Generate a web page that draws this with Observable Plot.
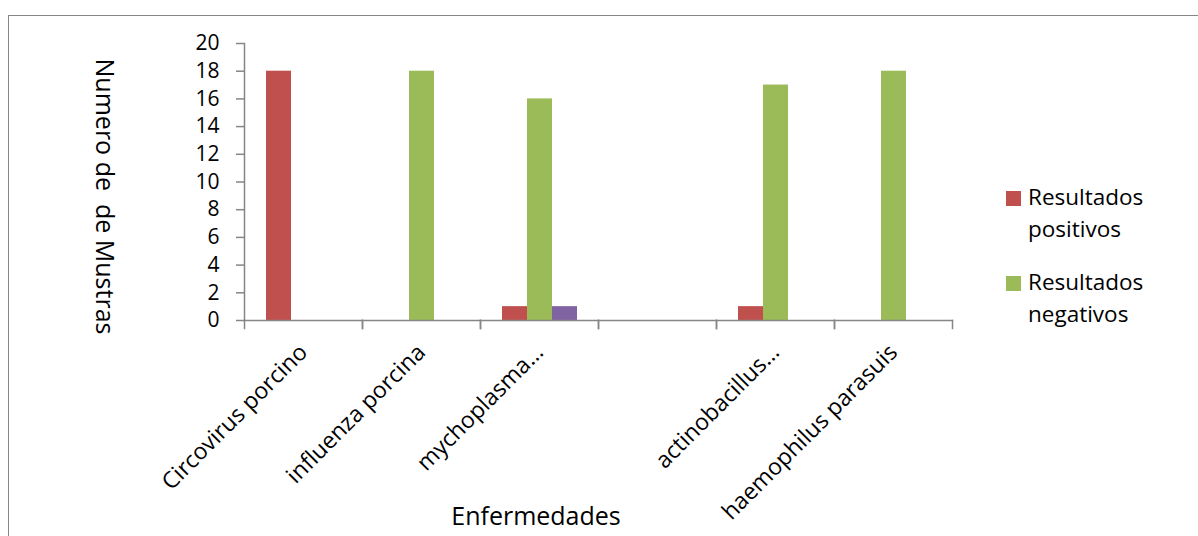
<!DOCTYPE html>
<html>
<head>
<meta charset="utf-8">
<script src="https://cdn.jsdelivr.net/npm/d3@7"></script>
<script src="https://cdn.jsdelivr.net/npm/@observablehq/plot@0.6"></script>
<style>
  body { margin: 0; background: #fff; font-family: "Open Sans", sans-serif; }
  #chart { position: relative; width: 1198px; height: 536px; overflow: hidden; background: #fff; }
  #chart svg { position: absolute; left: 0; top: 0; }
  #chart svg text { white-space: pre; }
  .borde { position: absolute; left: 8px; top: 15px; width: 1400px; height: 800px;
           border-left: 1.5px solid #868686; border-top: 1.5px solid #868686; pointer-events: none; }
  .leyenda { position: absolute; left: 1006px; top: 181px; font-size: 22.5px; line-height: 32px; color: #000; }
  .item { display: flex; align-items: flex-start; margin-bottom: 21px; }
  .muestra { width: 15px; height: 15px; margin-top: 10px; margin-right: 7px; flex: none; }
  .etiqueta { width: 140px; }
</style>
</head>
<body>
<div id="chart"></div>
<script>
// Enfermedades analizadas (la cuarta columna queda vacía)
const categorias = ["Circovirus porcino", "influenza porcina", "mychoplasma…", "", "actinobacillus…", "haemophilus parasuis"];
const nombresSeries = ["Resultados positivos", "Resultados negativos", "Serie 3"];
const positivos = [18, 0, 1, null, 1, 0];
const negativos = [0, 18, 16, null, 17, 18];
const serie3 = [0, 0, 1, null, 0, 0];
const colores = ["#C0504D", "#9BBB59", "#8064A2"];
const marcasY = [0, 2, 4, 6, 8, 10, 12, 14, 16, 18, 20];
const enLeyenda = ["Resultados positivos", "Resultados negativos"];
const tituloY = "Numero de  de Mustras";
const tituloX = "Enfermedades";

// Tabla larga: una fila por enfermedad y serie (los vacíos se conservan
// para que la columna sin datos siga ocupando su lugar)
const valores = [positivos, negativos, serie3];
const filas = categorias.flatMap((cat, i) =>
  nombresSeries.map((serie, s) => ({cat, serie, valor: valores[s][i]}))
);

const W = 1198, H = 536, mT = 43, mB = 216, mL = 244, mR = 246;
const altoInterior = H - mT - mB;
const gris = "#868686";

const grafico = Plot.plot({
  width: W,
  height: H,
  marginTop: mT,
  marginBottom: mB,
  marginLeft: mL,
  marginRight: mR,
  style: {fontFamily: '"Open Sans", sans-serif', color: "#000", background: "transparent"},
  fx: {domain: categorias, padding: 0, label: null},
  x: {domain: nombresSeries, paddingInner: 0, paddingOuter: 0.77, axis: null},
  y: {domain: [0, 20], label: null},
  color: {domain: nombresSeries, range: colores},
  marks: [
    Plot.barY(filas, {fx: "cat", x: "serie", y: "valor", fill: "serie"}),
    // eje horizontal y marcas en los límites de cada categoría
    Plot.frame({anchor: "bottom", stroke: gris, strokeWidth: 1.5}),
    Plot.frame({anchor: "left", stroke: gris, strokeWidth: 1.5, insetTop: altoInterior, insetBottom: -8}),
    Plot.frame({anchor: "right", stroke: gris, strokeWidth: 1.5, insetTop: altoInterior, insetBottom: -8}),
    // línea del eje vertical
    Plot.frame({facet: "super", anchor: "left", stroke: gris, strokeWidth: 1.5}),
    Plot.axisY({ticks: marcasY, tickSize: 8, tickPadding: 17, stroke: gris, strokeWidth: 1.5, fill: "#000", fontSize: 21, label: null}),
    Plot.axisFx({anchor: "bottom", tickSize: 0, tickPadding: 28, tickRotate: -45, fontSize: 23, fill: "#000", label: null}),
    Plot.text([tituloY], {facet: "super", frameAnchor: "left", textAnchor: "middle", lineAnchor: "middle", rotate: 90, dx: -141, dy: 14.5, fontSize: 25, fill: "#000"}),
    Plot.text([tituloX], {facet: "super", frameAnchor: "bottom", textAnchor: "middle", lineAnchor: "middle", dx: -62.5, dy: 196, fontSize: 25, fill: "#000"})
  ]
});

const cont = document.getElementById("chart");
cont.appendChild(grafico);

// Borde del área del gráfico
const borde = document.createElement("div");
borde.className = "borde";
cont.appendChild(borde);

// Leyenda (solo las dos primeras series)
const leyenda = document.createElement("div");
leyenda.className = "leyenda";
enLeyenda.forEach(nombre => {
  const item = document.createElement("div");
  item.className = "item";
  const muestra = document.createElement("div");
  muestra.className = "muestra";
  muestra.style.background = colores[nombresSeries.indexOf(nombre)];
  const etiqueta = document.createElement("div");
  etiqueta.className = "etiqueta";
  etiqueta.textContent = nombre;
  item.appendChild(muestra);
  item.appendChild(etiqueta);
  leyenda.appendChild(item);
});
cont.appendChild(leyenda);
</script>
</body>
</html>
